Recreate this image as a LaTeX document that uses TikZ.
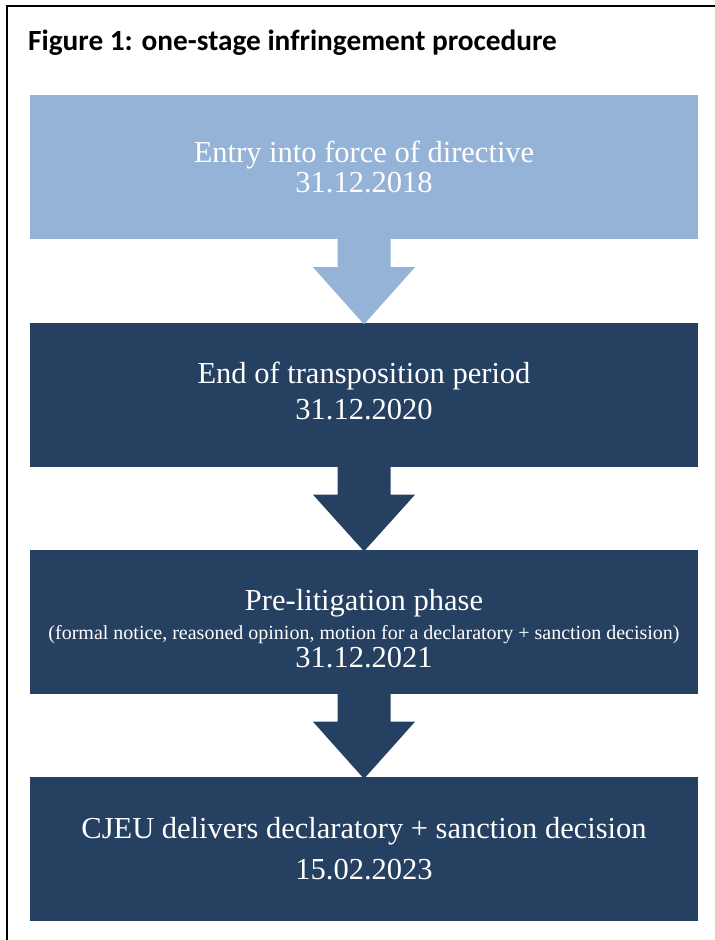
\documentclass[tikz,border=0pt]{standalone}
\usepackage{fontspec}
\setmainfont{Liberation Serif}
\newfontfamily\titlefont{Carlito}
\usetikzlibrary{calc}
\definecolor{lightbox}{HTML}{95B3D7}
\definecolor{darkbox}{HTML}{254061}
\newcommand\flowarrow[3]{%
  \fill[#3] ($(#1.south)+(-26.5,-1)$) -- ($(#1.south)+(26.5,-1)$) -- ($(#1.south)+(26.5,28)$)
    -- ($(#1.south)+(51,28)$) -- ($(#2.north)+(0,2)$) -- ($(#1.south)+(-51,28)$)
    -- ($(#1.south)+(-26.5,28)$) -- cycle;}
\begin{document}
\begin{tikzpicture}[x=1pt,y=-1pt,
  box/.style={rectangle, inner sep=0pt, minimum width=668pt, minimum height=144pt},
  big/.style={text=white, inner sep=0pt, anchor=base, font=\fontsize{30.5}{36}\selectfont},
  small/.style={text=white, inner sep=0pt, anchor=base, font=\fontsize{20}{24}\selectfont}]
\useasboundingbox (0,0) rectangle (715,940);
\clip (0,0) rectangle (715,940);
\draw[line width=2pt] (6.5,950) -- (6.5,5.5) -- (725,5.5);
\node[anchor=base west, inner sep=0pt, font=\titlefont\bfseries\fontsize{29.3}{34}\selectfont] (title) at (28,50) {Figure 1: one-stage infringement procedure};
\node[box, fill=lightbox] (b1) at (364,167) {};
\node[box, fill=darkbox] (b2) at (364,394.5) {};
\node[box, fill=darkbox] (b3) at (364,621.5) {};
\node[box, fill=darkbox] (b4) at (364,849) {};
\flowarrow{b1}{b2}{lightbox}
\flowarrow{b2}{b3}{darkbox}
\flowarrow{b3}{b4}{darkbox}
\node[big] (t1a) at (364,162) {Entry into force of directive};
\node[big] (t1b) at (364,192) {31.12.2018};
\node[big] (t2a) at (364,383) {End of transposition period};
\node[big] (t2b) at (364,419) {31.12.2020};
\node[big] (t3a) at (364,610) {Pre-litigation phase};
\node[small] (t3b) at (364,639) {(formal notice, reasoned opinion, motion for a declaratory + sanction decision)};
\node[big] (t3c) at (364,667) {31.12.2021};
\node[big] (t4a) at (364,838) {CJEU delivers declaratory + sanction decision};
\node[big] (t4b) at (364,879) {15.02.2023};
\end{tikzpicture}
\end{document}
